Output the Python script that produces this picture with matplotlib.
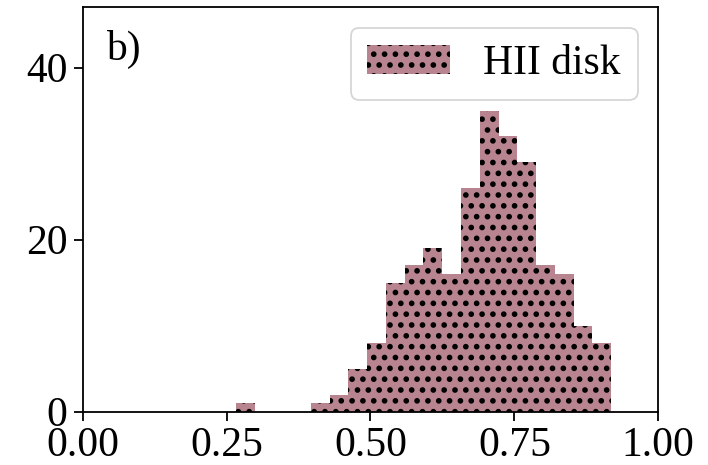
import numpy as np
import matplotlib
matplotlib.use("Agg")
import matplotlib.pyplot as plt

plt.rcParams['font.family'] = ['Liberation Serif', 'DejaVu Serif']
plt.rcParams['font.size'] = 23
plt.rcParams['hatch.color'] = 'black'
plt.rcParams['hatch.linewidth'] = 1.9

# histogram counts (20 bins between min and max value)
x_min, x_max = 0.266, 0.918
counts = [1, 0, 0, 0, 1, 2, 5, 8, 15, 17, 19, 16, 26, 35, 32, 29, 17, 16, 10, 8]
bin_edges = np.linspace(x_min, x_max, len(counts) + 1)

x_ticks = [0.00, 0.25, 0.50, 0.75, 1.00]
y_ticks = [0, 20, 40]

dpi = 130
fig = plt.figure(figsize=(708 / dpi, 465 / dpi), dpi=dpi)
ax = fig.add_axes([0.1168, 0.1146, 0.813, 0.8697])

ax.hist(bin_edges[:-1], bins=bin_edges, weights=counts, histtype='stepfilled',
        color='#b8848f', edgecolor='black', linewidth=0, hatch='..',
        label='HII disk')

ax.set_xlim(0, 1)
ax.set_ylim(0, 47)
ax.set_xticks(x_ticks)
ax.set_xticklabels([f"{t:.2f}" for t in x_ticks])
ax.set_yticks(y_ticks)
ax.tick_params(length=5, width=1.0)
ax.tick_params(axis='x', pad=3)
for s in ax.spines.values():
    s.set_linewidth(1.0)

ax.text(0.04, 0.87, 'b)', transform=ax.transAxes, va='baseline', ha='left')
ax.legend(loc='upper right')

fig.savefig('out.png', dpi=dpi)
